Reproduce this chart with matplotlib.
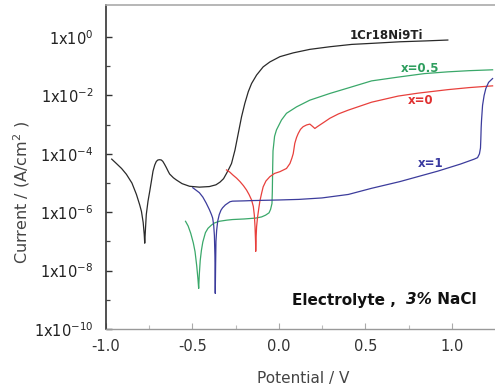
import matplotlib
matplotlib.use("Agg")
import matplotlib.pyplot as plt
from matplotlib.ticker import FixedLocator, NullFormatter

# ---------------- data (potential V, log10 current A/cm^2) ----------------
ss_V = [-0.967, -0.940, -0.910, -0.882, -0.850, -0.824, -0.805, -0.795, -0.785,
        -0.779, -0.776, -0.772, -0.767, -0.757, -0.747, -0.737, -0.728, -0.718,
        -0.709, -0.700, -0.690, -0.680, -0.671, -0.661, -0.651, -0.641, -0.632,
        -0.610, -0.594, -0.560, -0.517, -0.460, -0.402, -0.364, -0.341, -0.320,
        -0.303, -0.288, -0.274, -0.254, -0.235, -0.216, -0.197, -0.177, -0.158,
        -0.129, -0.091, -0.052, 0.006, 0.083, 0.179, 0.295, 0.421, 0.550, 0.700,
        0.850, 0.977]
ss_logI = [-4.18, -4.33, -4.50, -4.70, -5.00, -5.39, -5.75, -5.97, -6.35,
           -6.75, -7.06, -6.60, -6.08, -5.62, -5.28, -4.92, -4.59, -4.38,
           -4.26, -4.21, -4.20, -4.21, -4.26, -4.36, -4.47, -4.59, -4.69,
           -4.82, -4.89, -5.02, -5.11, -5.14, -5.12, -5.06, -4.97, -4.85,
           -4.67, -4.50, -4.33, -3.87, -3.30, -2.73, -2.27, -1.87, -1.59,
           -1.30, -1.02, -0.85, -0.67, -0.54, -0.42, -0.33, -0.25, -0.21, -0.16,
           -0.13, -0.10]

g_V = [-0.540, -0.525, -0.510, -0.495, -0.485, -0.475, -0.468, -0.464, -0.460,
       -0.455, -0.448, -0.440, -0.425, -0.410, -0.390, -0.374, -0.345, -0.300,
       -0.268, -0.200, -0.134, -0.100, -0.077, -0.057, -0.048, -0.040, -0.038,
       -0.036, -0.034, -0.025, -0.014, 0.015, 0.044, 0.102, 0.179, 0.295, 0.402,
       0.536, 0.690, 0.842, 0.977, 1.100, 1.236]
g_logI = [-6.31, -6.47, -6.72, -7.05, -7.35, -7.85, -8.30, -8.61, -8.10,
          -7.65, -7.30, -7.02, -6.70, -6.55, -6.44, -6.37, -6.31, -6.27,
          -6.25, -6.23, -6.20, -6.16, -6.10, -6.02, -5.90, -5.70, -5.30,
          -4.50, -3.90, -3.40, -3.18, -2.84, -2.61, -2.39, -2.16, -1.93, -1.74,
          -1.50, -1.37, -1.25, -1.19, -1.15, -1.12]

r_V = [-0.303, -0.285, -0.265, -0.245, -0.225, -0.205, -0.187, -0.172, -0.158,
       -0.148, -0.142, -0.138, -0.135, -0.134, -0.132, -0.129, -0.124, -0.117,
       -0.110, -0.100, -0.091, -0.075, -0.052, -0.025, 0.006, 0.044, 0.064,
       0.075, 0.083, 0.092, 0.102, 0.112, 0.125, 0.140, 0.160, 0.179, 0.193,
       0.208, 0.222, 0.237, 0.265, 0.295, 0.345, 0.402, 0.536, 0.690, 0.805,
       0.977, 1.100, 1.236]
r_logI = [-4.55, -4.62, -4.73, -4.83, -4.95, -5.09, -5.24, -5.40, -5.58,
          -5.80, -6.10, -6.50, -7.00, -7.34, -6.90, -6.50, -6.20, -5.90,
          -5.62, -5.35, -5.13, -4.93, -4.78, -4.67, -4.61, -4.50, -4.33,
          -4.15, -3.99, -3.64, -3.44, -3.30, -3.16, -3.07, -3.01, -2.98, -3.05,
          -3.13, -3.07, -3.01, -2.90, -2.78, -2.63, -2.50, -2.23, -2.02, -1.92,
          -1.80, -1.73, -1.67]

b_V = [-0.498, -0.480, -0.460, -0.440, -0.421, -0.402, -0.390, -0.383, -0.377,
       -0.373, -0.370, -0.368, -0.366, -0.364, -0.360, -0.354, -0.345, -0.335,
       -0.326, -0.310, -0.283, -0.268, -0.200, -0.153, 0.000, 0.115, 0.249,
       0.402, 0.536, 0.700, 0.920, 1.050, 1.130, 1.149, 1.160, 1.166, 1.168,
       1.170, 1.172, 1.178, 1.187, 1.197, 1.213, 1.236]
b_logI = [-5.16, -5.24, -5.33, -5.48, -5.68, -5.91, -6.08, -6.20, -6.45,
          -6.80, -7.50, -8.78, -7.80, -7.00, -6.62, -6.31, -6.08, -5.93,
          -5.85, -5.75, -5.64, -5.62, -5.61, -5.60, -5.58, -5.56, -5.51,
          -5.39, -5.18, -4.95, -4.59, -4.35, -4.18, -4.13, -4.00, -3.80, -3.50,
          -3.10, -2.86, -2.34, -2.00, -1.76, -1.55, -1.42]

series_names = ["1Cr18Ni9Ti", "x=0.5", "x=0", "x=1"]
series_colors = ["#2a2a2a", "#3aa86a", "#e8403c", "#3c3c9c"]
label_colors = ["#222222", "#2e9e5e", "#e03030", "#3a3aa0"]
label_V = [0.622, 0.817, 0.819, 0.875]
label_logI = [0.07, -1.06, -2.16, -4.32]

xticks = [-1.0, -0.5, 0.0, 0.5, 1.0]
xtick_labels = ["-1.0", "-0.5", "0.0", "0.5", "1.0"]
yticks = [1e-10, 1e-8, 1e-6, 1e-4, 1e-2, 1e0]
ytick_labels = [r"1x10$^{-10}$", r"1x10$^{-8}$", r"1x10$^{-6}$", r"1x10$^{-4}$",
                r"1x10$^{-2}$", r"1x10$^{0}$"]

# ---------------- figure ----------------
plt.rcParams['font.family'] = ['DejaVu Sans']
plt.rcParams['mathtext.fontset'] = 'dejavusans'

fig = plt.figure(figsize=(4.95, 3.87), dpi=100)
ax = fig.add_axes([106/495, 1-329/387, 1-106/495, (329-5)/387])

for V, L, c in zip([ss_V, g_V, r_V, b_V], [ss_logI, g_logI, r_logI, b_logI], series_colors):
    ax.plot(V, [10**v for v in L], color=c, lw=0.9)

ax.set_yscale('log')
ax.set_xlim(-1.0, 1.25)
ax.set_ylim(1e-10, 10**1.1)

ax.xaxis.set_major_locator(FixedLocator(xticks))
ax.set_xticklabels(xtick_labels)
ax.xaxis.set_minor_locator(FixedLocator([-0.75, -0.25, 0.25, 0.75]))
ax.yaxis.set_major_locator(FixedLocator(yticks))
ax.set_yticklabels(ytick_labels)
ax.yaxis.set_minor_locator(FixedLocator([1e-9, 1e-7, 1e-5, 1e-3, 1e-1]))
ax.yaxis.set_minor_formatter(NullFormatter())

ax.tick_params(axis='x', which='major', direction='in', length=4, width=0.8,
               color='#aaaaaa', labelsize=10.5, labelcolor='#333333', pad=7)
ax.tick_params(axis='x', which='minor', direction='in', length=3, width=0.8,
               color='#bbbbbb')
ax.tick_params(axis='y', which='major', direction='in', length=4, width=1.0,
               color='#333333', labelsize=10.5, labelcolor='#222222', pad=9)
ax.tick_params(axis='y', which='minor', direction='in', length=3, width=0.9,
               color='#444444')

ax.spines['left'].set_color('#333333')
ax.spines['left'].set_linewidth(1.2)
ax.spines['bottom'].set_color('#999999')
ax.spines['bottom'].set_linewidth(1.0)
ax.spines['top'].set_color('#aaaaaa')
ax.spines['top'].set_linewidth(1.2)
ax.spines['right'].set_visible(False)

for name, col, lv, li in zip(series_names, label_colors, label_V, label_logI):
    ax.text(lv, 10**li, name, color=col, fontsize=8.5, fontweight='bold',
            ha='center', va='center')

# Electrolyte annotation with italic "3%"
t1 = fig.text(292/495, 1-300/387, "Electrolyte ,  ", fontsize=11, fontweight='bold',
              color='#111111', ha='left', va='center')
t2 = ax.annotate("3%", xy=(1, 0), xycoords=t1, fontsize=11, fontweight='bold',
                 fontstyle='italic', color='#111111', ha='left', va='bottom')
t3 = ax.annotate(" NaCl", xy=(1, 0), xycoords=t2, fontsize=11, fontweight='bold',
                 color='#111111', ha='left', va='bottom')

fig.text(303/495, 1-378/387, "Potential / V", fontsize=11, color='#444444',
         ha='center', va='center')
fig.text(22/495, 1-193/387, r"Current / (A/cm$^2$ )", fontsize=11.5, color='#444444',
         ha='center', va='center', rotation=90)

fig.savefig("out.png", dpi=100)
